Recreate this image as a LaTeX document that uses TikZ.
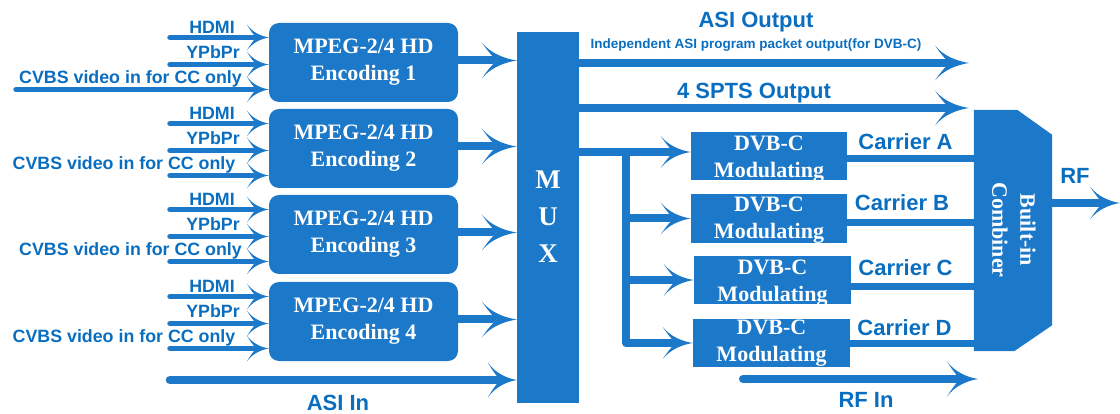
\documentclass[tikz,border=0pt]{standalone}
\usepackage{fontspec}
\setmainfont{Liberation Serif}
\setsansfont{Liberation Sans}
\usetikzlibrary{arrows.meta}
\definecolor{shp}{RGB}{28,120,200}
\definecolor{lbl}{RGB}{10,110,192}

\pgfdeclarearrow{
  name = Flare,
  parameters = {\the\pgfarrowlength,\the\pgfarrowwidth},
  setup code = {
    \pgfarrowssettipend{0pt}
    \pgfarrowssetbackend{-\pgfarrowlength}
    \pgfarrowssetlineend{-0.7\pgfarrowlength}
    \pgfarrowssetvisualbackend{-0.6\pgfarrowlength}
    \pgfarrowssavethe\pgfarrowlength
    \pgfarrowssavethe\pgfarrowwidth
  },
  drawing code = {
    \pgfpathmoveto{\pgfqpoint{0pt}{0pt}}
    \pgfpathcurveto{\pgfqpoint{-0.35\pgfarrowlength}{0.05\pgfarrowwidth}}{\pgfqpoint{-0.75\pgfarrowlength}{0.2\pgfarrowwidth}}{\pgfqpoint{-\pgfarrowlength}{0.5\pgfarrowwidth}}
    \pgfpathcurveto{\pgfqpoint{-0.82\pgfarrowlength}{0.24\pgfarrowwidth}}{\pgfqpoint{-0.66\pgfarrowlength}{0.08\pgfarrowwidth}}{\pgfqpoint{-0.58\pgfarrowlength}{0pt}}
    \pgfpathcurveto{\pgfqpoint{-0.66\pgfarrowlength}{-0.08\pgfarrowwidth}}{\pgfqpoint{-0.82\pgfarrowlength}{-0.24\pgfarrowwidth}}{\pgfqpoint{-\pgfarrowlength}{-0.5\pgfarrowwidth}}
    \pgfpathcurveto{\pgfqpoint{-0.75\pgfarrowlength}{-0.2\pgfarrowwidth}}{\pgfqpoint{-0.35\pgfarrowlength}{-0.05\pgfarrowwidth}}{\pgfqpoint{0pt}{0pt}}
    \pgfpathclose
    \pgfusepathqfill
  },
  defaults = {length = 30pt, width = 34pt}
}

\tikzset{
  lab/.style={font=\sffamily\bfseries\fontsize{17.8}{18}\selectfont, text=lbl, inner sep=0pt},
  biglab/.style={font=\sffamily\bfseries\fontsize{22}{24}\selectfont, text=lbl, inner sep=0pt},
  smalllab/.style={font=\sffamily\bfseries\fontsize{13.5}{15}\selectfont, text=lbl, inner sep=0pt},
  wtext/.style={font=\rmfamily\bfseries\fontsize{22}{27}\selectfont, text=white, align=center, inner sep=0pt},
  encbox/.style={fill=shp, rounded corners=10pt, minimum width=189pt, minimum height=79pt, inner sep=0pt},
  dvbbox/.style={fill=shp, minimum width=156pt, minimum height=48pt, inner sep=0pt},
  inarrow/.style={draw=shp, line width=5.5pt, line cap=round, -{Flare[length=22pt,width=26pt]}},
  midarrow/.style={draw=shp, line width=8pt, line cap=round, -{Flare[length=35pt,width=36pt]}},
  brarrow/.style={draw=shp, line width=8pt, line cap=round, line join=round, -{Flare[length=30pt,width=32pt]}},
  cline/.style={draw=shp, line width=7pt, line cap=round},
}

\begin{document}
\begin{tikzpicture}[x=1pt,y=-1pt]
\useasboundingbox (0,0) rectangle (1120,414);

% MUX
\node[fill=shp, minimum width=62pt, minimum height=371pt, inner sep=0pt] (mux) at (548,217.5) {};
\node[wtext, font=\rmfamily\bfseries\fontsize{27}{37}\selectfont] (muxt) at (548,217) {M\\U\\X};

% Encoders
\foreach \i/\t/\cx in {1/23/130.5, 2/109/124, 3/195/130.5, 4/282/124} {
  \node[encbox] (enc\i) at (363.5,\t+39.5) {};
  \node[wtext] (enct\i) at (enc\i.center) {MPEG-2/4 HD\\Encoding \i};
  \node[lab] (hdmi\i) at (212,\t+4.5) {HDMI};
  \node[lab] (ypb\i) at (213,\t+29.5) {YPbPr};
  \node[lab] (cvbs\i) at (\cx,\t+55.5) {CVBS video in for CC only};
  \coordinate (hs\i) at (170,\t+14.5);
  \coordinate (ys\i) at (170,\t+41.5);
  \draw[inarrow] (hs\i) -- (hs\i -| enc\i.west);
  \draw[inarrow] (ys\i) -- (ys\i -| enc\i.west);
  \draw[midarrow] ([yshift=2pt]enc\i.east) -- ([yshift=2pt]enc\i.east -| mux.west);
}
\foreach \i/\t/\sx in {1/23/16, 2/109/170, 3/195/170, 4/282/170} {
  \coordinate (cs\i) at (\sx,\t+66.5);
  \draw[inarrow] (cs\i) -- (cs\i -| enc\i.west);
}

% ASI In
\coordinate (asiIs) at (170,380);
\draw[draw=shp, line width=8.5pt, line cap=round, -{Flare[length=29pt,width=35pt]}] (asiIs) -- (asiIs -| mux.west);
\node[biglab] (asiIl) at (338,403) {ASI In};

% ASI Output
\coordinate (asiO) at (969,63);
\draw[draw=shp, line width=8pt, line cap=round, -{Flare[length=34pt,width=35pt]}] (mux.east |- asiO) -- (asiO);
\node[biglab] (asiOl) at (756,22) {ASI Output};
\node[smalllab] (asiOs) at (756,45) {Independent ASI program packet output(for DVB-C)};

% 4 SPTS Output
\coordinate (sptsO) at (969,108);
\draw[draw=shp, line width=8pt, line cap=round, -{Flare[length=34pt,width=35pt]}] (mux.east |- sptsO) -- (sptsO);
\node[biglab] (sptsl) at (754,93) {4 SPTS Output};

% DVB-C modulators
\node[dvbbox] (dvbA) at (769,156) {};
\node[dvbbox, minimum height=49pt] (dvbB) at (769,218.5) {};
\node[dvbbox, minimum width=157pt] (dvbC) at (772.5,280) {};
\node[dvbbox, minimum width=157pt] (dvbD) at (771.5,343) {};
\foreach \n/\s in {A/-3,B/-1.5,C/-3,D/-0.5} {
  \node[wtext] (dvbt\n) at ([yshift=\s pt]dvb\n.center) {DVB-C\\Modulating};
}

% branch
\coordinate (jn) at (626,152);
\draw[brarrow] (mux.east |- jn) -- (jn -| dvbA.west);
\draw[brarrow] (jn |- dvbB.west) -- (dvbB.west);
\draw[brarrow] (jn |- dvbC.west) -- (dvbC.west);
\draw[brarrow] (jn) |- (dvbD.west);

% Combiner
\node[minimum width=78pt, minimum height=241pt, inner sep=0pt] (comb) at (1013,230.5) {};
\fill[shp] (comb.north west) -- ([xshift=-35pt]comb.north east) -- ([yshift=-25pt]comb.north east)
  -- ([yshift=26pt]comb.south east) -- ([xshift=-38pt]comb.south east) -- (comb.south west) -- cycle;
\node[wtext, rotate=-90, font=\rmfamily\bfseries\fontsize{22}{28}\selectfont] (combt) at (1014,230) {Built-in\\Combiner};

% carriers
\draw[cline] ([yshift=-3pt]dvbA.east) -- ([yshift=-3pt]dvbA.east -| comb.west);
\draw[cline] ([yshift=-4.5pt]dvbB.east) -- ([yshift=-4.5pt]dvbB.east -| comb.west);
\draw[cline] ([yshift=-7pt]dvbC.east) -- ([yshift=-7pt]dvbC.east -| comb.west);
\draw[cline] (dvbD.east) -- (dvbD.east -| comb.west);
\node[biglab] (carA) at (905.5,142) {Carrier A};
\node[biglab] (carB) at (902,203) {Carrier B};
\node[biglab] (carC) at (905.5,268) {Carrier C};
\node[biglab] (carD) at (904.5,328) {Carrier D};

% RF out
\coordinate (rfO) at (1120,203);
\draw[draw=shp, line width=8pt, line cap=round, -{Flare[length=30pt,width=33pt]}] (comb.east |- rfO) -- (rfO);
\node[biglab] (rfl) at (1075,176) {RF};

% RF In
\coordinate (rfIs) at (743,379);
\coordinate (rfIe) at (978,379);
\draw[draw=shp, line width=8pt, line cap=round, -{Flare[length=31pt,width=35pt]}] (rfIs) -- (rfIe);
\node[biglab] (rfIl) at (866,400) {RF In};
\end{tikzpicture}
\end{document}
